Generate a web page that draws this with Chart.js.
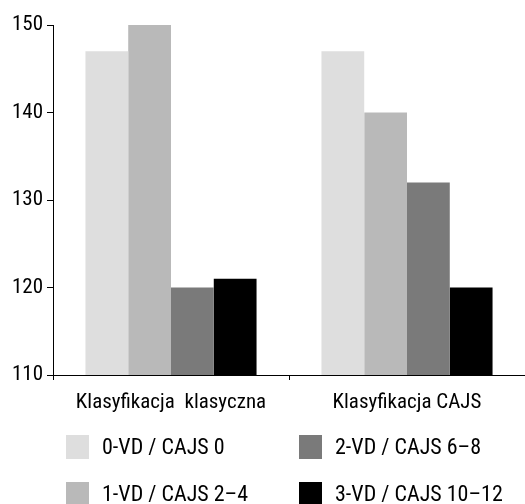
<!DOCTYPE html>
<html>
<head>
<meta charset="utf-8">
<script src="https://cdn.jsdelivr.net/npm/chart.js@4.4.1/dist/chart.umd.min.js"></script>
<style>
  html, body { margin: 0; padding: 0; background: #fff; }
  #wrap { position: relative; width: 525px; height: 504px; }
  #legend { position: absolute; left: 0; top: 0; width: 525px; height: 504px; pointer-events: none;
            font-family: "Roboto", sans-serif; font-stretch: condensed; font-size: 22px; color: #000; }
  .item { position: absolute; height: 24px; line-height: 24px; white-space: nowrap; }
  .box { position: absolute; left: 0; top: 0; width: 23px; height: 24px; }
  .lbl { position: absolute; left: 36px; top: 0; }
</style>
</head>
<body>
<div id="wrap">
  <canvas id="chart" width="525" height="504"></canvas>
  <div id="legend"></div>
</div>
<script>
// Dados do gráfico
const categories = ['Klasyfikacja  klasyczna', 'Klasyfikacja CAJS'];
const seriesNames = ['0-VD / CAJS 0', '1-VD / CAJS 2–4', '2-VD / CAJS 6–8', '3-VD / CAJS 10–12'];
const series0 = [147, 147];
const series1 = [150, 140];
const series2 = [120, 132];
const series3 = [121, 120];
const yTicks = [110, 120, 130, 140, 150];

const colors = ['#dedede', '#b9b9b9', '#7a7a7a', '#000000'];
// fonte condensada (Roboto com font-stretch)
const tickFont = { family: '"Roboto", sans-serif', weight: 'condensed', size: 21 };

const datasets = [series0, series1, series2, series3].map((values, i) => ({
    label: seriesNames[i],
    data: values,
    backgroundColor: colors[i],
    borderWidth: 0,
    categoryPercentage: 0.725,
    barPercentage: 1.0
}));

new Chart(document.getElementById('chart').getContext('2d'), {
    type: 'bar',
    data: { labels: categories, datasets: datasets },
    options: {
        responsive: false,
        animation: false,
        layout: { padding: { top: 25, right: 0, bottom: 84, left: 0 } },
        plugins: { legend: { display: false }, tooltip: { enabled: false } },
        scales: {
            x: {
                offset: true,
                grid: { display: true, drawOnChartArea: false, offset: true, tickLength: 5, color: '#000' },
                border: { display: true, color: '#000', width: 1 },
                ticks: { color: '#000', font: tickFont, padding: 10, maxRotation: 0 },
                afterFit: scale => { scale.height = 45; }
            },
            y: {
                min: 110,
                max: 150,
                afterBuildTicks: scale => { scale.ticks = yTicks.map(v => ({ value: v })); },
                grid: { display: true, drawOnChartArea: false, tickLength: 6, color: '#000' },
                border: { display: true, color: '#000', width: 1 },
                ticks: { color: '#000', font: tickFont, padding: 4 },
                afterFit: scale => { scale.width = 53; }
            }
        }
    }
});

// Legenda em duas colunas (ordem por coluna)
const legendPos = [[66, 435], [66, 482], [299, 435], [299, 482]];
const legend = document.getElementById('legend');
seriesNames.forEach((name, i) => {
    const item = document.createElement('div');
    item.className = 'item';
    item.style.left = legendPos[i][0] + 'px';
    item.style.top = legendPos[i][1] + 'px';
    item.innerHTML = '<div class="box" style="background:' + colors[i] + '"></div><div class="lbl"></div>';
    item.querySelector('.lbl').textContent = name;
    legend.appendChild(item);
});
</script>
</body>
</html>
